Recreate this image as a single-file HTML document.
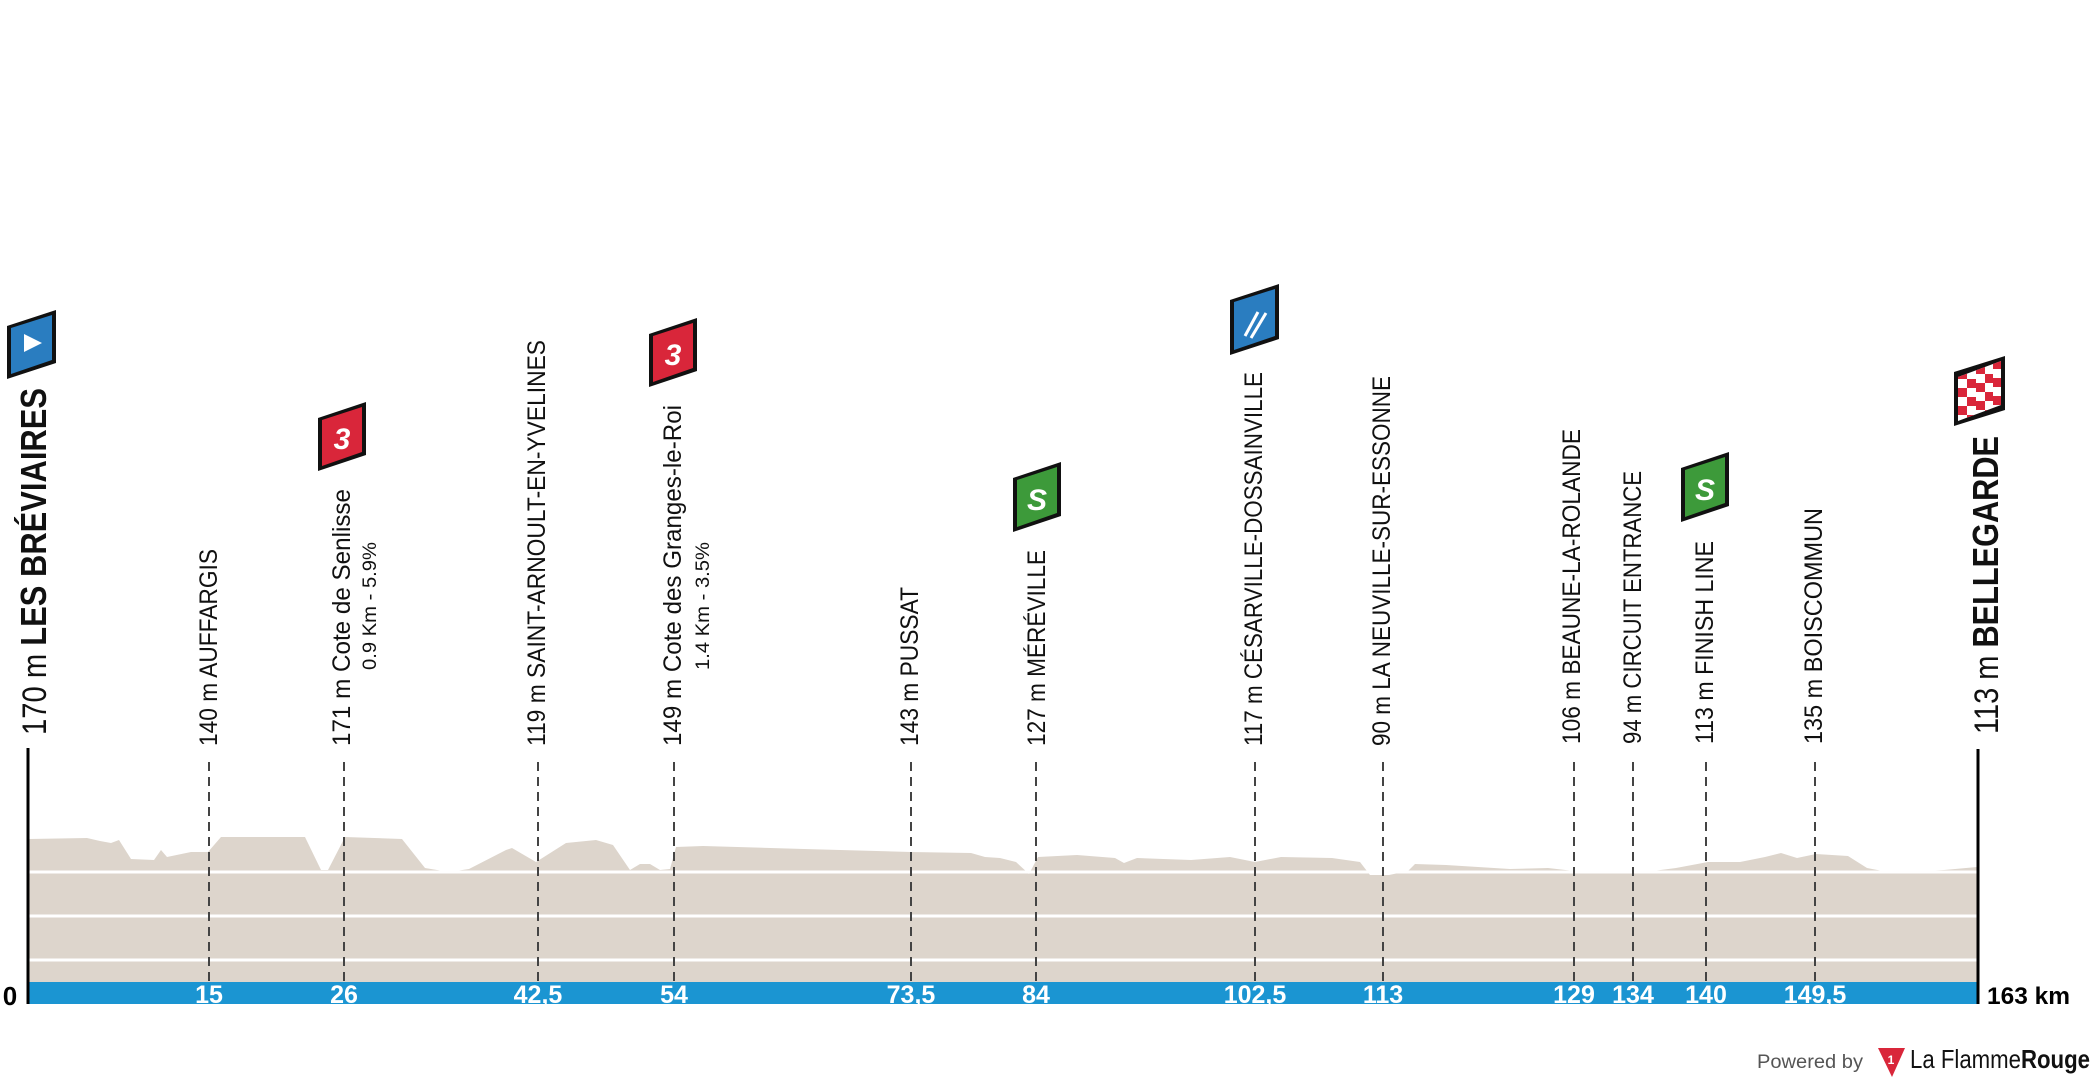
<!DOCTYPE html>
<html><head><meta charset="utf-8"><style>
html,body{margin:0;padding:0;background:#fff;}
svg{display:block;}
text{font-family:"Liberation Sans",sans-serif;}
</style></head><body>
<svg width="2098" height="1084" viewBox="0 0 2098 1084" xmlns="http://www.w3.org/2000/svg">
<rect width="2098" height="1084" fill="#fff"/>
<path fill="#ddd5cc" d="M29,982 L29,839 L87,838 L100,841 L111,843 L119,840 L131,859 L154,860 L161,850 L167,857 L191,852 L208,852 L221,837 L305,837 L321,870 L328,870 L345,837 L402,839 L425,868 L449,872 L469,869 L506,850 L512,848 L536,862 L566,843 L596,840 L613,845 L630,870 L640,864 L650,864 L660,870 L670,869 L676,847 L703,846 L804,849 L911,852 L971,853 L985,857 L1000,858 L1016,862 L1029,874 L1038,857 L1077,855 L1115,858 L1124,863 L1137,858 L1191,860 L1230,857 L1255,862 L1281,857 L1332,858 L1360,862 L1370,875 L1389,875 L1408,871 L1415,864 L1446,865 L1510,869 L1548,868 L1574,871 L1625,872 L1638,873 L1676,868 L1708,862 L1740,862 L1765,857 L1781,853 L1797,858 L1816,854 L1848,856 L1867,868 L1893,873 L1944,870 L1977,867 L1977,982 Z"/>
<g stroke="#fff" stroke-width="3">
<line x1="29" y1="872" x2="1977" y2="872"/>
<line x1="29" y1="916" x2="1977" y2="916"/>
<line x1="29" y1="960" x2="1977" y2="960"/>
</g>
<g stroke="#444" stroke-width="2" stroke-dasharray="9,6">
<line x1="209" y1="762" x2="209" y2="982"/>
<line x1="344" y1="762" x2="344" y2="982"/>
<line x1="538" y1="762" x2="538" y2="982"/>
<line x1="674" y1="762" x2="674" y2="982"/>
<line x1="911" y1="762" x2="911" y2="982"/>
<line x1="1036" y1="762" x2="1036" y2="982"/>
<line x1="1255" y1="762" x2="1255" y2="982"/>
<line x1="1383" y1="762" x2="1383" y2="982"/>
<line x1="1574" y1="762" x2="1574" y2="982"/>
<line x1="1633" y1="762" x2="1633" y2="982"/>
<line x1="1706" y1="762" x2="1706" y2="982"/>
<line x1="1815" y1="762" x2="1815" y2="982"/>
</g>
<rect x="28" y="982" width="1950" height="22" fill="#1b95d2"/>
<line x1="28" y1="748" x2="28" y2="1004" stroke="#000" stroke-width="3"/>
<line x1="1978" y1="749" x2="1978" y2="1004" stroke="#000" stroke-width="3"/>
<g fill="#fff" font-weight="bold" font-size="25" text-anchor="middle">
<text x="209" y="1003">15</text>
<text x="344" y="1003">26</text>
<text x="538" y="1003">42,5</text>
<text x="674" y="1003">54</text>
<text x="911" y="1003">73,5</text>
<text x="1036" y="1003">84</text>
<text x="1255" y="1003">102,5</text>
<text x="1383" y="1003">113</text>
<text x="1574" y="1003">129</text>
<text x="1633" y="1003">134</text>
<text x="1706" y="1003">140</text>
<text x="1815" y="1003">149,5</text>
</g>
<text x="10" y="1005" font-size="26" font-weight="bold" text-anchor="middle">0</text>
<text x="1987" y="1004" font-size="24" font-weight="bold" textLength="83" lengthAdjust="spacingAndGlyphs">163 km</text>
<g font-size="25" fill="#111">
<text transform="translate(217,746) rotate(-90)" textLength="197" lengthAdjust="spacingAndGlyphs">140 m AUFFARGIS</text>
<text transform="translate(350,746) rotate(-90)" textLength="257" lengthAdjust="spacingAndGlyphs">171 m Cote de Senlisse</text>
<text transform="translate(376,670) rotate(-90)" font-size="19" textLength="128" lengthAdjust="spacingAndGlyphs">0.9 Km - 5.9%</text>
<text transform="translate(545,746) rotate(-90)" textLength="406" lengthAdjust="spacingAndGlyphs">119 m SAINT-ARNOULT-EN-YVELINES</text>
<text transform="translate(681,746) rotate(-90)" textLength="341" lengthAdjust="spacingAndGlyphs">149 m Cote des Granges-le-Roi</text>
<text transform="translate(709,670) rotate(-90)" font-size="19" textLength="128" lengthAdjust="spacingAndGlyphs">1.4 Km - 3.5%</text>
<text transform="translate(918,746) rotate(-90)" textLength="159" lengthAdjust="spacingAndGlyphs">143 m PUSSAT</text>
<text transform="translate(1045,746) rotate(-90)" textLength="196" lengthAdjust="spacingAndGlyphs">127 m MÉRÉVILLE</text>
<text transform="translate(1262,746) rotate(-90)" textLength="374" lengthAdjust="spacingAndGlyphs">117 m CÉSARVILLE-DOSSAINVILLE</text>
<text transform="translate(1390,746) rotate(-90)" textLength="370" lengthAdjust="spacingAndGlyphs">90 m LA NEUVILLE-SUR-ESSONNE</text>
<text transform="translate(1580,744) rotate(-90)" textLength="315" lengthAdjust="spacingAndGlyphs">106 m BEAUNE-LA-ROLANDE</text>
<text transform="translate(1641,744) rotate(-90)" textLength="273" lengthAdjust="spacingAndGlyphs">94 m CIRCUIT ENTRANCE</text>
<text transform="translate(1713,744) rotate(-90)" textLength="203" lengthAdjust="spacingAndGlyphs">113 m FINISH LINE</text>
<text transform="translate(1822,744) rotate(-90)" textLength="236" lengthAdjust="spacingAndGlyphs">135 m BOISCOMMUN</text>
<text transform="translate(46,735) rotate(-90)" font-size="34" textLength="347" lengthAdjust="spacingAndGlyphs">170 m <tspan font-weight="bold" font-size="36">LES BRÉVIAIRES</tspan></text>
<text transform="translate(1998,734) rotate(-90)" font-size="34" textLength="298" lengthAdjust="spacingAndGlyphs">113 m <tspan font-weight="bold" font-size="36">BELLEGARDE</tspan></text>
</g>
<defs>
<clipPath id="cf"><path d="M1958,377 L2001,361 L2001,405 L1958,421 Z"/></clipPath>
</defs>
<path d="M7,326 L56,310 L56,363 L7,379 Z" fill="#111"/>
<path d="M11,328 L52,315 L52,360 L11,374 Z" fill="#2a7dc0"/>
<path d="M24,334 L42,343 L24,352 Z" fill="#fff"/>
<path d="M318,418 L366,402 L366,455 L318,471 Z" fill="#111"/>
<path d="M322,420 L362,407 L362,452 L322,466 Z" fill="#d9263a"/>
<text x="342" y="449" font-size="30" font-weight="bold" font-style="italic" fill="#fff" text-anchor="middle">3</text>
<path d="M649,334 L697,318 L697,371 L649,387 Z" fill="#111"/>
<path d="M653,336 L693,323 L693,368 L653,382 Z" fill="#d9263a"/>
<text x="673" y="365" font-size="30" font-weight="bold" font-style="italic" fill="#fff" text-anchor="middle">3</text>
<path d="M1013,478 L1061,462 L1061,516 L1013,532 Z" fill="#111"/>
<path d="M1017,480 L1057,467 L1057,513 L1017,527 Z" fill="#3d9a3a"/>
<text x="1037" y="510" font-size="30" font-weight="bold" font-style="italic" fill="#fff" text-anchor="middle">S</text>
<path d="M1230,300 L1279,284 L1279,339 L1230,355 Z" fill="#111"/>
<path d="M1234,302 L1275,289 L1275,336 L1234,350 Z" fill="#2a7dc0"/>
<path d="M1245,336 L1258,312 M1251,338 L1266,313" stroke="#fff" stroke-width="3"/>
<path d="M1681,468 L1729,452 L1729,506 L1681,522 Z" fill="#111"/>
<path d="M1685,470 L1725,457 L1725,503 L1685,517 Z" fill="#3d9a3a"/>
<text x="1705" y="500" font-size="30" font-weight="bold" font-style="italic" fill="#fff" text-anchor="middle">S</text>
<path d="M1954,372 L2005,356 L2005,410 L1954,426 Z" fill="#111"/>
<g clip-path="url(#cf)">
<rect x="1958" y="356" width="43" height="66" fill="#fff"/>
<g fill="#d9263a">
<rect x="1958" y="370" width="9" height="9"/><rect x="1976" y="365" width="9" height="9"/><rect x="1993" y="360" width="8" height="9"/>
<rect x="1967" y="379" width="9" height="9"/><rect x="1985" y="374" width="8" height="9"/>
<rect x="1958" y="388" width="9" height="9"/><rect x="1976" y="383" width="9" height="9"/><rect x="1993" y="378" width="8" height="9"/>
<rect x="1967" y="397" width="9" height="9"/><rect x="1985" y="392" width="8" height="9"/>
<rect x="1958" y="406" width="9" height="9"/><rect x="1976" y="401" width="9" height="9"/><rect x="1993" y="396" width="8" height="9"/>
<rect x="1967" y="415" width="9" height="9"/><rect x="1985" y="410" width="8" height="9"/>
</g>
</g>
<text x="1757" y="1068" font-size="19" fill="#555" textLength="106" lengthAdjust="spacingAndGlyphs">Powered by</text>
<path d="M1878,1048 L1905,1048 L1892,1077 Z" fill="#d9263a"/>
<text x="1891" y="1064" font-size="12" font-weight="bold" fill="#fff" text-anchor="middle">1</text>
<text x="1910" y="1068" font-size="26" fill="#111" textLength="180" lengthAdjust="spacingAndGlyphs">La Flamme<tspan font-weight="bold">Rouge</tspan></text>
</svg>
</body></html>
